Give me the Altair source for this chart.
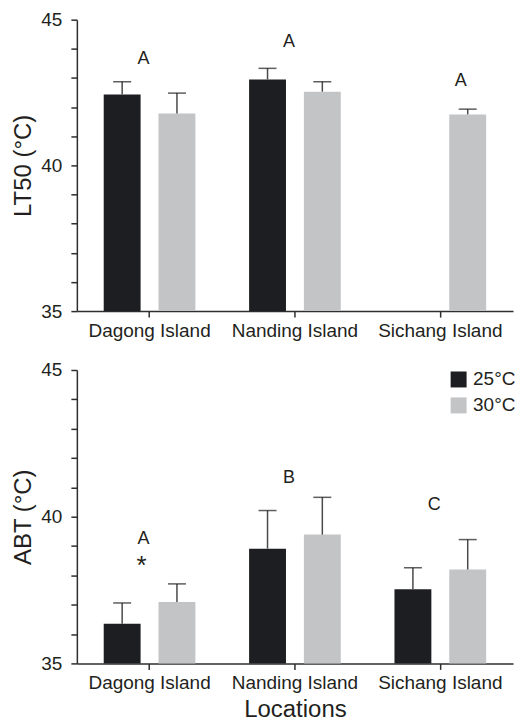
import altair as alt
import pandas as pd

locations = ["Dagong Island", "Nanding Island", "Sichang Island"]
temps = ["25°C", "30°C"]
colors = ["#1d1e21", "#c3c4c6"]

# LT50 (top panel): mean and upper error limit, per location [25°C, 30°C]
lt50_mean = [[42.43, 41.78], [42.95, 42.53], [None, 41.75]]
lt50_upper = [[42.87, 42.48], [43.33, 42.87], [None, 41.93]]
lt50_letters = ["A", "A", "A"]
lt50_letter_y = [43.66, 44.25, 42.88]

# ABT (bottom panel)
abt_mean = [[36.35, 37.09], [38.91, 39.39], [37.53, 38.20]]
abt_upper = [[37.06, 37.71], [40.21, 40.66], [38.26, 39.22]]
abt_letters = ["A", "B", "C"]
abt_letter_y = [39.23, 41.31, 40.41]
star_loc = ["Dagong Island"]
star_y = [38.5]
y_ticks = list(range(35, 46))


def make_df(means, uppers):
    rows = []
    for i, loc in enumerate(locations):
        for j, t in enumerate(temps):
            if means[i][j] is not None:
                rows.append({"location": loc, "temp": t, "mean": means[i][j],
                             "upper": uppers[i][j], "base": 35})
    return pd.DataFrame(rows)


FONT = "Liberation Sans"
TXT = "#231f20"
AX = "#2e2e2e"


def panel(means, uppers, letters, letter_y, ytitle, xtitle, h, legend, top):
    df = make_df(means, uppers)
    xaxis = alt.Axis(labelAngle=0, ticks=True, tickSize=6, labelFontSize=19,
                     labelPadding=4, labelColor=TXT, domainColor=AX,
                     tickColor=AX, domainWidth=1.5, tickWidth=1.5,
                     titleFontSize=24, titleFontWeight="normal",
                     titleColor=TXT, titlePadding=5, title=xtitle)
    yaxis = alt.Axis(values=y_ticks, ticks=True,
                     labelExpr="datum.value % 5 == 0 ? datum.label : ''",
                     labelOverlap=False,
                     tickSize=6, labelFontSize=19, labelColor=TXT,
                     labelPadding=9, grid=False, domainColor=AX,
                     tickColor=AX, domainWidth=1.5, tickWidth=1.5,
                     titleFontSize=24, titleFontWeight="normal",
                     titleColor=TXT, titlePadding=5, title=ytitle)
    xscale = alt.Scale(domain=locations, paddingInner=0, paddingOuter=0)
    yscale = alt.Scale(domain=[35, 45], nice=False, zero=False)

    def X():
        return alt.X("location:N", sort=locations, scale=xscale, axis=xaxis)

    def Y(field):
        return alt.Y(field, type="quantitative", scale=yscale, axis=yaxis)

    xoff = alt.XOffset("temp:N", sort=temps,
                       scale=alt.Scale(domain=temps, paddingInner=0.327, paddingOuter=0.49))
    base = alt.Chart(df)
    if legend:
        leg = alt.Legend(orient="none", legendX=373, legendY=0, title=None,
                         symbolType="square", symbolSize=256, symbolStrokeWidth=0,
                         labelFontSize=19, labelColor=TXT, rowPadding=6, padding=0,
                         labelOffset=5)
    else:
        leg = None
    bars = base.mark_bar().encode(
        x=X(), xOffset=xoff, y=Y("mean"), y2="base:Q",
        color=alt.Color("temp:N", scale=alt.Scale(domain=temps, range=colors), legend=leg))
    rule = base.mark_rule(color="#4a4a4a", strokeWidth=1.5).encode(
        x=X(), xOffset=xoff, y=Y("mean"), y2="upper:Q")
    cap = base.mark_tick(color="#1a1a1a", thickness=1.5, size=18, orient="horizontal").encode(
        x=X(), xOffset=xoff, y=Y("upper"))

    ldf = pd.DataFrame({"location": locations, "label": letters, "y": letter_y})
    txt_main = alt.Chart(ldf[ldf["location"] != "Sichang Island"] if top else ldf).mark_text(
        font=FONT, fontSize=18, color=TXT, baseline="middle", dx=-6).encode(
        x=X(), y=Y("y"), text="label:N")
    layers = [bars, rule, cap, txt_main]
    if top:
        sdf = ldf[ldf["location"] == "Sichang Island"].assign(temp="30°C")
        txt_s = alt.Chart(sdf).mark_text(
            font=FONT, fontSize=18, color=TXT, baseline="middle", dx=-7).encode(
            x=X(), xOffset=xoff, y=Y("y"), text="label:N")
        layers.append(txt_s)
    else:
        stdf = pd.DataFrame({"location": star_loc, "y": star_y, "label": ["*"]})
        star = alt.Chart(stdf).mark_text(
            font=FONT, fontSize=26, color=TXT, baseline="middle", dx=-8, dy=5).encode(
            x=X(), y=Y("y"), text="label:N")
        layers.append(star)
    return alt.layer(*layers).properties(width=437, height=h)


top_chart = panel(lt50_mean, lt50_upper, lt50_letters, lt50_letter_y,
                  "LT50 (°C)", None, 292, False, True)
bottom_chart = panel(abt_mean, abt_upper, abt_letters, abt_letter_y,
                     "ABT (°C)", "Locations", 294, True, False)

chart = alt.vconcat(top_chart, bottom_chart, spacing=21).resolve_legend(
    color="independent").resolve_scale(color="independent").properties(
    padding={"left": 3, "top": 2, "right": -1, "bottom": -3}
).configure(font=FONT).configure_view(stroke=None)

chart.save("out.html", embed_options={"renderer": "svg", "actions": False})
